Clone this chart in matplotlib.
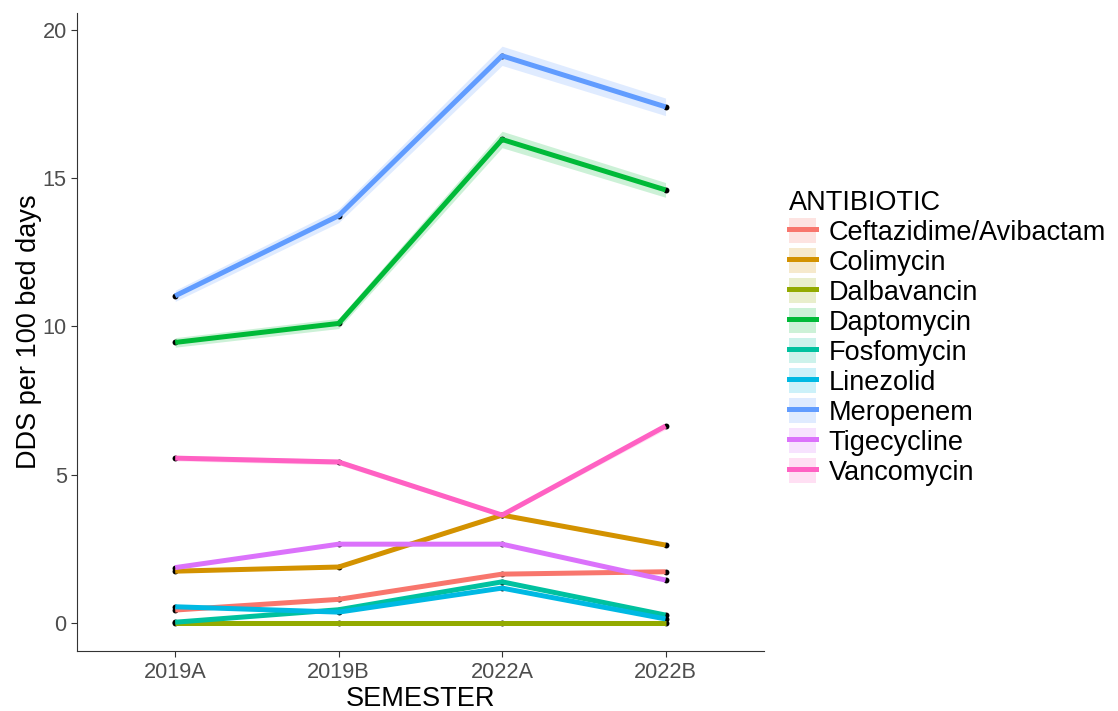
import matplotlib
matplotlib.use("Agg")
import matplotlib.pyplot as plt
from matplotlib.patches import Patch
from matplotlib.lines import Line2D
import numpy as np

plt.rcParams['font.family'] = ['Liberation Sans', 'DejaVu Sans']

semesters = ["2019A", "2019B", "2022A", "2022B"]
antibiotics = ["Ceftazidime/Avibactam", "Colimycin", "Dalbavancin", "Daptomycin",
               "Fosfomycin", "Linezolid", "Meropenem", "Tigecycline", "Vancomycin"]
ceftazidime = [0.44, 0.80, 1.65, 1.73]
colimycin = [1.75, 1.89, 3.64, 2.63]
dalbavancin = [0.0, 0.0, 0.0, 0.0]
daptomycin = [9.46, 10.1, 16.3, 14.6]
fosfomycin = [0.03, 0.45, 1.39, 0.27]
linezolid = [0.55, 0.37, 1.18, 0.14]
meropenem = [11.03, 13.73, 19.12, 17.4]
tigecycline = [1.87, 2.66, 2.66, 1.45]
vancomycin = [5.56, 5.43, 3.64, 6.64]
series = [ceftazidime, colimycin, dalbavancin, daptomycin, fosfomycin,
          linezolid, meropenem, tigecycline, vancomycin]
colors = ["#F8766D", "#D39200", "#93AA00", "#00BA38", "#00C19F",
          "#00B9E3", "#619CFF", "#DB72FB", "#FF61C3"]

fig = plt.figure(figsize=(11.18, 7.11), dpi=100)
ax = fig.add_axes([0.069, 0.084, 0.614, 0.898])
x = np.arange(1, len(semesters) + 1)
band_frac = 0.017
for vals, c in zip(series, colors):
    v = np.array(vals)
    ax.fill_between(x, v - band_frac * v, v + band_frac * v, color=c, alpha=0.2, linewidth=0)
for vals in series:
    ax.scatter(x, vals, color='black', s=18, zorder=2, linewidths=0)
for vals, c in zip(series, colors):
    ax.plot(x, vals, color=c, linewidth=3.6, solid_capstyle='butt', zorder=3)

ax.set_xlim(0.4, 4.6)
ax.set_ylim(-0.95, 20.57)
ax.set_xticks(x)
ax.set_xticklabels(semesters)
ax.set_yticks([0, 5, 10, 15, 20])
for s in ['top', 'right']:
    ax.spines[s].set_visible(False)
for s in ['left', 'bottom']:
    ax.spines[s].set_color('#333333')
    ax.spines[s].set_linewidth(0.8)
ax.tick_params(axis='both', colors='#333333', labelcolor='#4D4D4D', labelsize=15.7, length=4, width=0.8)
ax.set_xlabel("SEMESTER", fontsize=19.5, labelpad=2.5)
ax.set_ylabel("DDS per 100 bed days", fontsize=19.5, labelpad=0)

handles = [(Patch(facecolor=c, alpha=0.2, edgecolor='none'),
            Line2D([], [], color=c, linewidth=3.6)) for c in colors]
leg = fig.legend(handles, antibiotics, title="ANTIBIOTIC", loc='upper left',
                 bbox_to_anchor=(0.706, 0.733), frameon=False, fontsize=19.5,
                 title_fontsize=19.5, handlelength=1.0, handleheight=1.05,
                 labelspacing=0.08, handletextpad=0.45, borderaxespad=0, borderpad=0)
leg._legend_box.align = "left"

fig.savefig("out.png", dpi=100)
